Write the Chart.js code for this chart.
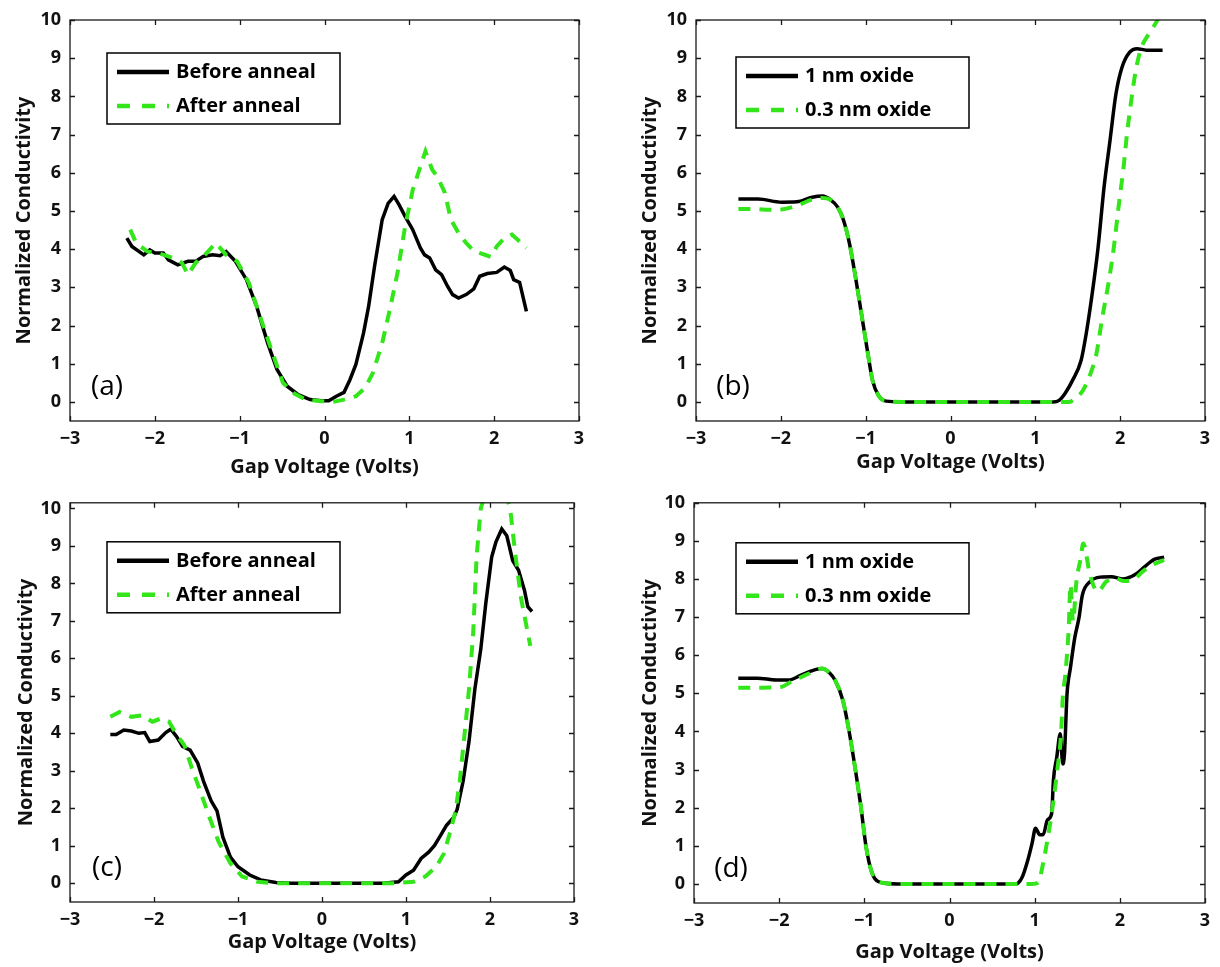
<!DOCTYPE html>
<html>
<head>
<meta charset="utf-8">
<title>Normalized conductivity vs gap voltage</title>
<script src="https://cdn.jsdelivr.net/npm/chart.js@4.4.0/dist/chart.umd.min.js"></script>
<style>
  body { margin: 0; background: #fff; }
  #wrap { position: relative; width: 1220px; height: 967px; }
  canvas { position: absolute; }
</style>
</head>
<body>
<div id="wrap">
  <canvas id="panel_a" width="610" height="483" style="left:0;top:0;"></canvas>
  <canvas id="panel_b" width="610" height="483" style="left:610px;top:0;"></canvas>
  <canvas id="panel_c" width="610" height="484" style="left:0;top:483px;"></canvas>
  <canvas id="panel_d" width="610" height="484" style="left:610px;top:483px;"></canvas>
</div>
<script>
// Tick labels shared by every panel
const xTicks = [-3, -2, -1, 0, 1, 2, 3];
const yTicks = [0, 1, 2, 3, 4, 5, 6, 7, 8, 9, 10];

// Panel (a): before / after anneal
const voltsA1 = [-2.33, -2.27, -2.13, -2.06, -2.0, -1.9, -1.84, -1.73, -1.61, -1.52, -1.43, -1.32, -1.23, -1.16, -1.05, -0.92, -0.80, -0.67, -0.56, -0.44, -0.31, -0.17, -0.04, 0.05, 0.14, 0.23, 0.30, 0.37, 0.46, 0.52, 0.59, 0.68, 0.75, 0.82, 0.88, 0.95, 1.04, 1.13, 1.18, 1.24, 1.31, 1.38, 1.45, 1.51, 1.58, 1.67, 1.76, 1.83, 1.92, 2.03, 2.12, 2.19, 2.23, 2.30, 2.38];
const condA1 = [4.29, 4.07, 3.85, 3.98, 3.9, 3.9, 3.72, 3.59, 3.68, 3.68, 3.81, 3.85, 3.83, 3.94, 3.68, 3.2, 2.5, 1.54, 0.85, 0.41, 0.19, 0.06, 0.03, 0.03, 0.15, 0.25, 0.58, 0.98, 1.8, 2.5, 3.55, 4.77, 5.2, 5.38, 5.16, 4.86, 4.51, 4.03, 3.85, 3.77, 3.46, 3.33, 3.03, 2.81, 2.72, 2.81, 2.96, 3.29, 3.36, 3.39, 3.53, 3.44, 3.2, 3.13, 2.37];
const voltsA2 = [-2.29, -2.22, -2.09, -1.97, -1.84, -1.75, -1.68, -1.61, -1.52, -1.41, -1.28, -1.16, -1.03, -0.89, -0.76, -0.62, -0.49, -0.35, -0.22, -0.04, 0.10, 0.23, 0.37, 0.48, 0.57, 0.68, 0.77, 0.86, 0.95, 1.04, 1.13, 1.19, 1.27, 1.33, 1.42, 1.49, 1.58, 1.67, 1.76, 1.85, 1.96, 2.03, 2.12, 2.21, 2.30, 2.38];
const condA2 = [4.51, 4.16, 3.94, 3.9, 3.81, 3.74, 3.64, 3.33, 3.64, 3.85, 4.16, 3.85, 3.68, 3.11, 2.24, 1.33, 0.5, 0.21, 0.06, 0.02, 0.0, 0.06, 0.15, 0.37, 0.76, 1.54, 2.42, 3.37, 4.59, 5.55, 6.16, 6.56, 6.08, 5.9, 5.47, 4.77, 4.42, 4.16, 3.95, 3.88, 3.8, 4.07, 4.29, 4.38, 4.2, 4.03];

// Panel (b): 1 nm / 0.3 nm oxide
const voltsB1 = [-2.5, -2.27, -1.99, -1.81, -1.63, -1.51, -1.42, -1.33, -1.26, -1.19, -1.12, -1.05, -0.98, -0.92, -0.85, -0.76, -0.57, 1.21, 1.28, 1.35, 1.44, 1.54, 1.60, 1.67, 1.74, 1.81, 1.88, 1.95, 2.02, 2.11, 2.20, 2.31, 2.50];
const condB1 = [5.31, 5.31, 5.23, 5.24, 5.36, 5.39, 5.30, 5.10, 4.75, 4.14, 3.27, 2.31, 1.35, 0.57, 0.17, 0.02, 0, 0, 0.04, 0.22, 0.57, 1.09, 1.79, 2.83, 4.05, 5.62, 6.84, 8.06, 8.75, 9.15, 9.25, 9.21, 9.21];
const voltsB2 = [-2.5, -2.31, -2.13, -1.99, -1.81, -1.63, -1.51, -1.42, -1.33, -1.26, -1.19, -1.12, -1.05, -0.98, -0.92, -0.85, -0.76, -0.57, 1.40, 1.47, 1.56, 1.65, 1.72, 1.79, 1.86, 1.92, 1.99, 2.04, 2.08, 2.13, 2.19, 2.25, 2.34, 2.44, 2.50];
const condB2 = [5.05, 5.05, 5.03, 5.04, 5.14, 5.30, 5.34, 5.30, 5.10, 4.75, 4.14, 3.27, 2.31, 1.35, 0.57, 0.17, 0.02, 0, 0, 0.09, 0.30, 0.74, 1.26, 2.22, 3.08, 3.96, 5.27, 6.14, 7.01, 7.88, 8.75, 9.28, 9.64, 10.0, 10.3];

// Panel (c): before / after anneal
const voltsC1 = [-2.52, -2.45, -2.36, -2.27, -2.18, -2.11, -2.05, -1.95, -1.86, -1.80, -1.73, -1.66, -1.57, -1.48, -1.41, -1.32, -1.25, -1.18, -1.09, -1.0, -0.86, -0.73, -0.55, -0.36, 0.73, 0.91, 1.0, 1.09, 1.18, 1.27, 1.34, 1.41, 1.48, 1.57, 1.61, 1.68, 1.75, 1.82, 1.89, 1.95, 2.02, 2.07, 2.14, 2.20, 2.27, 2.34, 2.41, 2.45, 2.5];
const condC1 = [3.97, 3.97, 4.09, 4.06, 4.0, 4.02, 3.78, 3.82, 4.02, 4.11, 3.91, 3.65, 3.55, 3.21, 2.72, 2.2, 1.93, 1.23, 0.70, 0.44, 0.22, 0.09, 0.02, 0, 0, 0.04, 0.22, 0.35, 0.66, 0.83, 1.01, 1.27, 1.54, 1.76, 1.98, 2.72, 3.78, 5.18, 6.24, 7.47, 8.70, 9.1, 9.45, 9.27, 8.61, 8.35, 7.82, 7.38, 7.25];
const voltsC2 = [-2.52, -2.41, -2.27, -2.14, -2.02, -1.91, -1.82, -1.73, -1.64, -1.55, -1.45, -1.34, -1.23, -1.09, -0.95, -0.77, -0.55, 0.86, 1.09, 1.23, 1.36, 1.45, 1.52, 1.59, 1.64, 1.70, 1.75, 1.80, 1.84, 1.89, 2.0, 2.12, 2.24, 2.30, 2.37, 2.48];
const condC2 = [4.44, 4.57, 4.44, 4.48, 4.31, 4.4, 4.31, 3.95, 3.69, 3.08, 2.46, 1.76, 1.10, 0.53, 0.18, 0.04, 0, 0, 0.04, 0.18, 0.44, 0.79, 1.32, 1.93, 2.72, 4.04, 5.18, 6.68, 8.70, 10.0, 10.8, 10.9, 10.0, 8.8, 7.6, 6.33];

// Panel (d): 1 nm / 0.3 nm oxide
const voltsD1 = [-2.48, -2.26, -2.03, -1.89, -1.75, -1.62, -1.50, -1.41, -1.34, -1.25, -1.18, -1.11, -1.04, -0.98, -0.91, -0.79, -0.61, 0.78, 0.85, 0.92, 0.97, 1.01, 1.06, 1.10, 1.15, 1.20, 1.22, 1.26, 1.30, 1.33, 1.35, 1.38, 1.42, 1.47, 1.52, 1.56, 1.65, 1.77, 1.90, 2.04, 2.13, 2.20, 2.27, 2.36, 2.41, 2.52];
const condD1 = [5.4, 5.4, 5.35, 5.35, 5.47, 5.59, 5.65, 5.54, 5.33, 4.80, 4.02, 3.07, 2.02, 0.98, 0.29, 0.03, 0, 0, 0.16, 0.63, 1.07, 1.46, 1.29, 1.29, 1.68, 1.85, 2.72, 3.33, 3.94, 3.15, 3.41, 4.98, 5.67, 6.45, 6.98, 7.58, 7.93, 8.05, 8.06, 8.0, 8.06, 8.15, 8.28, 8.45, 8.52, 8.57];
const voltsD2 = [-2.48, -2.21, -1.98, -1.84, -1.71, -1.57, -1.50, -1.41, -1.34, -1.25, -1.18, -1.11, -1.04, -0.98, -0.91, -0.79, -0.61, 0.97, 1.04, 1.10, 1.15, 1.20, 1.26, 1.31, 1.33, 1.36, 1.40, 1.42, 1.45, 1.49, 1.54, 1.57, 1.65, 1.74, 1.84, 1.95, 2.04, 2.16, 2.27, 2.38, 2.52];
const condD2 = [5.15, 5.15, 5.17, 5.33, 5.46, 5.6, 5.65, 5.54, 5.33, 4.80, 4.02, 3.07, 2.02, 0.98, 0.29, 0.03, 0, 0, 0.03, 0.55, 1.16, 1.85, 2.89, 3.94, 4.89, 5.5, 6.72, 7.85, 6.89, 7.93, 8.54, 8.93, 8.11, 7.67, 7.93, 8.02, 7.95, 7.98, 8.2, 8.37, 8.5];

const annealLabels = ['Before anneal', 'After anneal'];
const oxideLabels = ['1 nm oxide', '0.3 nm oxide'];

const FONT = "'Open Sans', 'DejaVu Sans', sans-serif";
const GREEN = '#33e61a';
Chart.defaults.font.family = FONT;
Chart.defaults.color = '#111';

// zip two arrays into {x, y} points
function toPoints(xs, ys) {
  return xs.map((v, i) => ({ x: v, y: ys[i] }));
}

// Draws the box, inward MATLAB style ticks, the legend box and panel letter
const framePlugin = {
  id: 'frame',
  afterDatasetsDraw(chart, args, opts) {
    const { ctx, chartArea: a, scales } = chart;
    const x = scales.x, y = scales.y;
    ctx.save();
    ctx.strokeStyle = '#1a1a1a';
    ctx.lineWidth = 1.3;
    ctx.beginPath();
    for (const v of xTicks) {
      const px = Math.round(x.getPixelForValue(v)) + 0.5;
      ctx.moveTo(px, a.bottom); ctx.lineTo(px, a.bottom - 5);
      ctx.moveTo(px, a.top); ctx.lineTo(px, a.top + 5);
    }
    for (const v of yTicks) {
      const py = Math.round(y.getPixelForValue(v)) + 0.5;
      ctx.moveTo(a.left, py); ctx.lineTo(a.left + 5, py);
      ctx.moveTo(a.right, py); ctx.lineTo(a.right - 5, py);
    }
    ctx.stroke();
    ctx.strokeRect(a.left, a.top, a.right - a.left, a.bottom - a.top);

    // legend
    const lx = a.left + opts.legendX, ly = a.top + opts.legendY;
    ctx.fillStyle = '#fff';
    ctx.fillRect(lx, ly, 233, 71);
    ctx.lineWidth = 1.5;
    ctx.strokeStyle = '#000';
    ctx.strokeRect(lx, ly, 233, 71);
    ctx.font = 'bold 20px ' + FONT;
    ctx.textBaseline = 'middle';
    ctx.fillStyle = '#000';
    const rows = [ly + 19, ly + 53];
    ctx.lineWidth = 4.5;
    ctx.beginPath();
    ctx.moveTo(lx + 10, rows[0]); ctx.lineTo(lx + 62, rows[0]);
    ctx.stroke();
    ctx.strokeStyle = GREEN;
    ctx.setLineDash([13, 12]);
    ctx.beginPath();
    ctx.moveTo(lx + 10, rows[1]); ctx.lineTo(lx + 62, rows[1]);
    ctx.stroke();
    ctx.setLineDash([]);
    ctx.fillText(opts.labels[0], lx + 69, rows[0]);
    ctx.fillText(opts.labels[1], lx + 69, rows[1]);

    // panel letter
    ctx.font = '500 28px ' + FONT;
    ctx.textAlign = 'center';
    ctx.fillText(opts.letter, a.left + 37, a.bottom - 34);
    ctx.restore();
  }
};

function makePanel(id, p) {
  const ctx = document.getElementById(id).getContext('2d');
  return new Chart(ctx, {
    type: 'line',
    data: {
      datasets: [
        {
          label: p.labels[1],
          data: toPoints(p.x2, p.y2),
          borderColor: GREEN,
          borderWidth: 4,
          borderDash: [12, 9],
          pointRadius: 0,
          cubicInterpolationMode: p.smooth ? 'monotone' : 'default',
          tension: 0,
          order: 0
        },
        {
          label: p.labels[0],
          data: toPoints(p.x1, p.y1),
          borderColor: '#000',
          borderWidth: 3.5,
          pointRadius: 0,
          cubicInterpolationMode: p.smooth ? 'monotone' : 'default',
          tension: 0,
          order: 1
        }
      ]
    },
    options: {
      responsive: false,
      animation: false,
      devicePixelRatio: 1,
      layout: { padding: { left: p.padLeft, right: p.padRight, top: p.padTop, bottom: 0 } },
      plugins: {
        legend: { display: false },
        tooltip: { enabled: false },
        frame: { labels: p.labels, letter: p.letter, legendX: p.legendX, legendY: p.legendY }
      },
      scales: {
        x: {
          type: 'linear',
          min: -3,
          max: 3,
          afterBuildTicks: s => { s.ticks = xTicks.map(v => ({ value: v })); },
          afterFit: s => { s.height = p.xHeight; },
          grid: { display: false, drawTicks: false, tickLength: 0 },
          border: { display: false },
          ticks: {
            padding: 7,
            color: '#111',
            font: { size: 18, weight: 'bold' },
            callback: v => String(v).replace('-', '\u2212')
          },
          title: {
            display: true,
            text: 'Gap Voltage (Volts)',
            color: '#111',
            font: { size: 20, weight: 'bold' },
            padding: { top: 0, bottom: p.xTitlePad }
          }
        },
        y: {
          min: -0.5,
          max: p.yMax,
          afterBuildTicks: s => { s.ticks = yTicks.map(v => ({ value: v })); },
          afterFit: s => { s.width = 70; },
          grid: { display: false, drawTicks: false, tickLength: 0 },
          border: { display: false },
          ticks: {
            padding: 9,
            color: '#111',
            font: { size: 18, weight: 'bold' }
          },
          title: {
            display: true,
            text: 'Normalized Conductivity',
            color: '#111',
            font: { size: 20, weight: 'bold' },
            padding: { top: p.yTitlePad, bottom: 0 }
          }
        }
      }
    },
    plugins: [framePlugin]
  });
}

makePanel('panel_a', {
  x1: voltsA1, y1: condA1, x2: voltsA2, y2: condA2, labels: annealLabels, letter: '(a)', smooth: false,
  padLeft: 0, padRight: 31, padTop: 20, xHeight: 62, yMax: 10, xTitlePad: 4, yTitlePad: 12, legendX: 37, legendY: 33
});
makePanel('panel_b', {
  x1: voltsB1, y1: condB1, x2: voltsB2, y2: condB2, labels: oxideLabels, letter: '(b)', smooth: true,
  padLeft: 16, padRight: 15, padTop: 20, xHeight: 62, yMax: 10, xTitlePad: 9, yTitlePad: 12, legendX: 40, legendY: 37
});
makePanel('panel_c', {
  x1: voltsC1, y1: condC1, x2: voltsC2, y2: condC2, labels: annealLabels, letter: '(c)', smooth: false,
  padLeft: 0, padRight: 36, padTop: 15, xHeight: 65, yMax: 10.15, xTitlePad: 13, yTitlePad: 14, legendX: 37, legendY: 39
});
makePanel('panel_d', {
  x1: voltsD1, y1: condD1, x2: voltsD2, y2: condD2, labels: oxideLabels, letter: '(d)', smooth: true,
  padLeft: 14, padRight: 15, padTop: 18, xHeight: 64, yMax: 10, xTitlePad: 3, yTitlePad: 14, legendX: 42, legendY: 40
});
</script>
</body>
</html>
